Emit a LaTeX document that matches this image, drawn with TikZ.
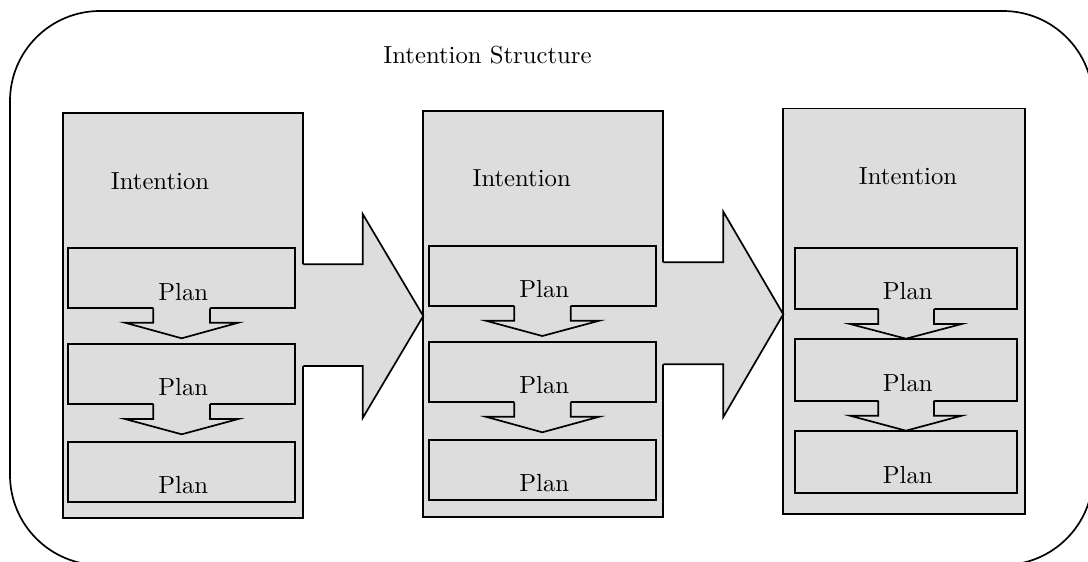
\documentclass[tikz,border=0pt]{standalone}
\definecolor{boxfill}{RGB}{221,221,221}
\tikzset{
  line/.style={line width=1.7pt, draw=black, line join=miter},
  panel/.style={line, fill=boxfill, rectangle, inner sep=0pt, outer sep=0pt},
  % text set at its 10pt design size, then enlarged
  label/.style={font=\fontsize{10}{12}\selectfont, inner sep=0pt, anchor=base,
    scale=2.47, transform shape},
}
% rectangle node from its two corners: style, name, x1, y1, x2, y2
\newcommand\cornerbox[6]{%
  \pgfmathsetmacro\bxw{#5-#3}\pgfmathsetmacro\bxh{#6-#4}%
  \node[#1, minimum width=\bxw pt, minimum height=\bxh pt] (#2) at ({(#3+#5)/2},{(#4+#6)/2}) {};}
% downward notch arrow under a plan box:
% notch left/right, wing left/right, tip x, box bottom, notch bottom, tip y
\newcommand\planarrow[8]{%
  \fill[boxfill] (#1,#6-1.5) -- (#1,#7) -- (#3,#7) -- (#5,#8) -- (#4,#7) -- (#2,#7) -- (#2,#6-1.5) -- cycle;
  \draw[line] (#1,#6) -- (#1,#7) -- (#3,#7) -- (#5,#8) -- (#4,#7) -- (#2,#7) -- (#2,#6);}
% block arrow between intentions:
% start x, shaft top, shaft bottom, head x, head top, head bottom, tip x, tip y
\newcommand\stagearrow[8]{%
  \fill[boxfill] (#1-3,#2) -- (#4,#2) -- (#4,#5) -- (#7,#8) -- (#4,#6) -- (#4,#3) -- (#1-3,#3) -- cycle;
  \draw[line] (#1,#2) -- (#4,#2) -- (#4,#5) -- (#7,#8) -- (#4,#6) -- (#4,#3) -- (#1,#3);}
\begin{document}
\begin{tikzpicture}[x=1pt,y=-1pt]
\clip (0,0) rectangle (1088,562);

% surrounding structure (runs past the right and bottom edges)
\draw[line] (10,11) [rounded corners=90pt] rectangle (1093,565);
\node[label] (title) at (487.5,63) {Intention Structure};

% intention panels
\cornerbox{panel}{int1}{62.7}{112.7}{303.3}{518.3}
\cornerbox{panel}{int2}{423.3}{111}{663.3}{516.7}
\cornerbox{panel}{int3}{783}{108.5}{1025}{514}

% transitions between intentions
\stagearrow{303.3}{264.3}{366}{362.7}{214}{418}{423.3}{316}
\stagearrow{663.3}{262.3}{364.3}{723.3}{211.7}{417}{783.3}{314.3}

% first intention
\node[label] (it1) at (160,189.5) {Intention};
\cornerbox{panel}{p11}{68.3}{248.3}{295}{308.3}
\planarrow{153.3}{210}{125}{238.3}{181.7}{308.3}{322.7}{338.3}
\cornerbox{panel}{p12}{68.3}{344.3}{295}{404}
\planarrow{153.3}{210}{125}{238.3}{181.7}{404}{419}{434.3}
\cornerbox{panel}{p13}{68.3}{441.7}{295}{502.3}
\node[label] (t11) at (183.3,300) {Plan};
\node[label] (t12) at (183.3,395) {Plan};
\node[label] (t13) at (183.3,493) {Plan};

% second intention
\node[label] (it2) at (521.7,186.5) {Intention};
\cornerbox{panel}{p21}{429}{245.7}{655.7}{306}
\planarrow{514.3}{570.7}{485.7}{599.3}{542.3}{306}{320.7}{336}
\cornerbox{panel}{p22}{429}{342.3}{655.7}{402.3}
\planarrow{514.3}{570.7}{485.7}{599.3}{542.3}{402.3}{416.7}{432.3}
\cornerbox{panel}{p23}{429}{440}{655.7}{500}
\node[label] (t21) at (544.3,297) {Plan};
\node[label] (t22) at (544.3,393) {Plan};
\node[label] (t23) at (544.3,491) {Plan};

% third intention
\node[label] (it3) at (908,184) {Intention};
\cornerbox{panel}{p31}{794.7}{247.7}{1017.3}{309}
\planarrow{878.3}{934}{850}{961.7}{906}{309}{324}{338.7}
\cornerbox{panel}{p32}{794.7}{339.3}{1017.3}{400.7}
\planarrow{878.3}{934}{850}{961.7}{906}{400.7}{415.7}{430.7}
\cornerbox{panel}{p33}{794.7}{431.3}{1017.3}{492.7}
\node[label] (t31) at (907.7,299.7) {Plan};
\node[label] (t32) at (907.7,391) {Plan};
\node[label] (t33) at (907.7,483) {Plan};
\end{tikzpicture}
\end{document}
